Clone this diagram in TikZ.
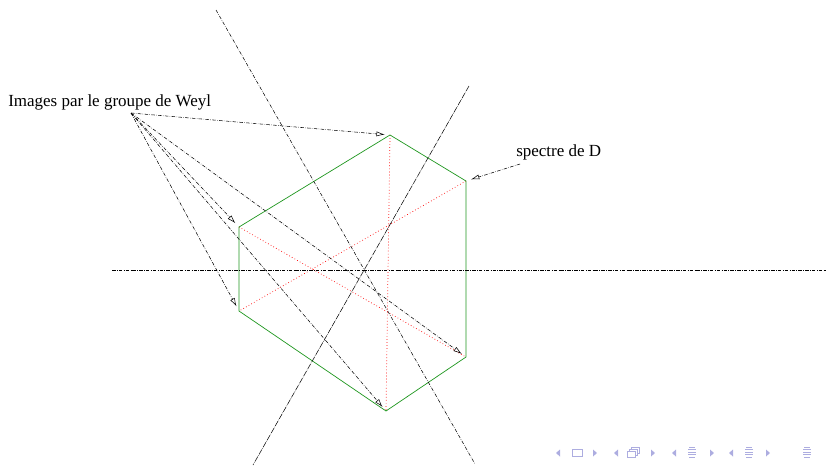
\documentclass[tikz,border=0pt]{standalone}
\usepackage{fontspec}
\setmainfont{Liberation Serif}
\usetikzlibrary{arrows.meta}
\definecolor{hexgreen}{RGB}{30,150,30}
\definecolor{navblue}{RGB}{173,173,224}

\begin{document}
\begin{tikzpicture}[
    x=0.03cm, y=-0.03cm,
    font=\fontsize{14.5}{17}\selectfont,
    line width=0.45pt,
    axis/.style={dash pattern=on 3pt off 1.2pt on 0.4pt off 1.2pt},
    axisdense/.style={dash pattern=on 5pt off 0.8pt on 0.4pt off 0.8pt},
    pointer/.style={axis,-{Latex[open,length=2.5mm,width=1.5mm]},shorten >=4.5pt},
    hexa/.style={draw=hexgreen,line width=0.6pt},
    diag/.style={red,dotted,line width=0.6pt},
    navsym/.style={fill=navblue,draw=none},
    navline/.style={draw=navblue,line width=0.8pt}
]
\path[use as bounding box] (0,0) rectangle (826,467);

% vertices of the hexagon
\coordinate (top) at (390,135);
\coordinate (ur) at (466,181);
\coordinate (lr) at (466,357);
\coordinate (bot) at (386,411);
\coordinate (ll) at (239,311);
\coordinate (ul) at (239,227);

\draw[diag] (top) -- (bot);
\draw[diag] (ur) -- (ll);
\draw[diag] (ul) -- (lr);
\draw[hexa] (top) -- (ur) -- (lr) -- (bot) -- (ll) -- (ul) -- cycle;

% reflection axes
\draw[axis] (112,270) -- (826,270);
\draw[axis] (216,10) -- (475,464);
\draw[axisdense] (469,86) -- (253,465);

\node[anchor=base west,inner sep=0pt] (weyl) at (8,106) {Images par le groupe de Weyl};
\coordinate (weylfoot) at (131,113);
\foreach \v in {top,ul,ll,lr,bot}
    \draw[pointer] (weylfoot) -- (\v);

\node[anchor=base west,inner sep=0pt] (spec) at (516,156) {spectre de D};
\coordinate (specfoot) at (520,164);
\draw[pointer] (specfoot) -- (ur);

% navigation symbols
\foreach \x in {558,616,674,731}
    \fill[navsym] (\x-2,453) -- (\x+2,449.5) -- (\x+2,456.5) -- cycle;
\foreach \x in {595,653,712,768}
    \fill[navsym] (\x+2,453) -- (\x-2,449.5) -- (\x-2,456.5) -- cycle;
\draw[navline] (572,449) rectangle (582,456);
\foreach \d in {0,2,4}
    \draw[navline,fill=white] (631-\d,447+\d) rectangle (639-\d,453+\d);
\foreach \x in {692,749,807} {
    \draw[navline] (\x-3,447) -- (\x+3,447);
    \draw[navline] (\x-4,449.5) -- (\x+4,449.5);
    \draw[navline] (\x-4,452) -- (\x+4,452);
    \draw[navline] (\x-4,454.5) -- (\x+4,454.5);
    \draw[navline] (\x-3,457) -- (\x+3,457);
}
\end{tikzpicture}
\end{document}
